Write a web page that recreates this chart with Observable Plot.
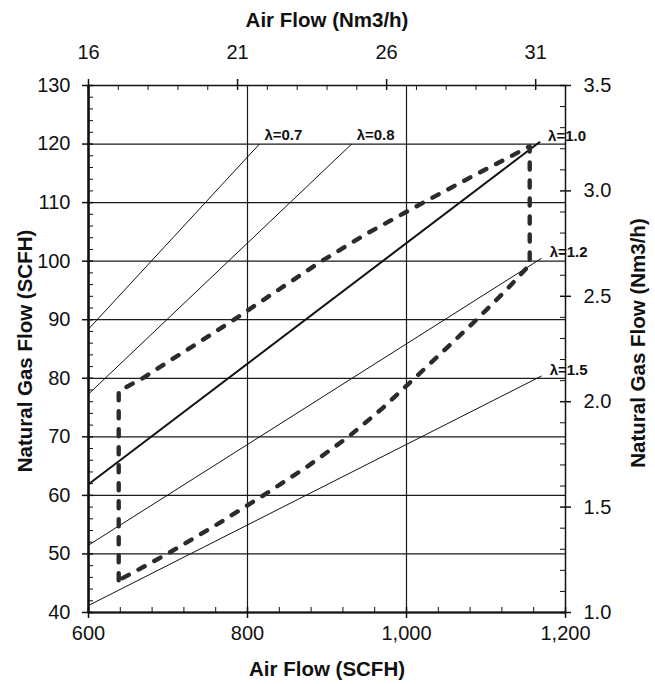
<!DOCTYPE html>
<html>
<head>
<meta charset="utf-8">
<script src="https://cdn.jsdelivr.net/npm/d3@7"></script>
<script src="https://cdn.jsdelivr.net/npm/@observablehq/plot@0.6"></script>
<style>
  html, body { margin: 0; padding: 0; background: #fff; }
  #chart svg { display: block; }
</style>
</head>
<body>
<div id="chart"></div>
<script>
// ---------- data ----------
// Bottom axis: Air Flow (SCFH)
const airTicks = [600, 800, 1000, 1200];
// Left axis: Natural Gas Flow (SCFH)
const gasTicks = [40, 50, 60, 70, 80, 90, 100, 110, 120, 130];
// Top axis: Air Flow (Nm3/h)
const airNm3Ticks = [16, 21, 26, 31];
const airNm3Minor = [17, 18, 19, 20, 22, 23, 24, 25, 27, 28, 29, 30, 32];
const scfhPerNm3Air = 37.5;            // top axis alignment (16 -> 600)
// Right axis: Natural Gas Flow (Nm3/h)
const gasNm3Ticks = [1.0, 1.5, 2.0, 2.5, 3.0, 3.5];
const gasNm3Range = [1.0, 3.5];        // aligned with gas SCFH 40 .. 130
const gasScfhRange = [40, 130];

// Air/fuel ratio lines (lambda)
const lambdaLabels = ["λ=0.7", "λ=0.8", "λ=1.0", "λ=1.2", "λ=1.5"];
const lambdaStartAir = [600, 600, 600, 600, 600];
const lambdaStartGas = [88.4, 77.3, 61.9, 51.5, 41.2];
const lambdaEndAir   = [815, 931, 1168, 1170, 1170];
const lambdaEndGas   = [120, 120, 120.4, 100.5, 80.4];
const lambdaWidth    = [1, 1, 2, 1, 1];

// Operating envelope (dashed outline)
const upperAir = [638, 668, 700, 750, 785, 840, 893, 950, 1021, 1090, 1155];
const upperGas = [77.8, 80.0, 82.8, 87.1, 90.2, 95.2, 100.0, 104.7, 110.0, 115.0, 119.6];
const lowerAir = [638, 699, 760, 820, 875, 927, 970, 1010, 1050, 1088, 1125, 1155];
const lowerGas = [45.5, 50.0, 54.9, 60.0, 64.9, 70.0, 74.9, 80.0, 85.1, 90.0, 95.0, 99.4];

// ---------- build tables ----------
const lambdaLines = lambdaLabels.map((label, i) => ({
  label, x1: lambdaStartAir[i], y1: lambdaStartGas[i],
  x2: lambdaEndAir[i], y2: lambdaEndGas[i], w: lambdaWidth[i]
}));
const upper = upperAir.map((a, i) => ({air: a, gas: upperGas[i]}));
const lower = lowerAir.map((a, i) => ({air: a, gas: lowerGas[i]}));
const outline = [lower[0], ...upper, ...lower.slice().reverse()];

const nm3ToGas = d3.scaleLinear().domain(gasNm3Range).range(gasScfhRange);
const airMinor = d3.range(600, 1201, 40).filter(v => !airTicks.includes(v));
const gasMinor = d3.range(40, 131, 2).filter(v => !gasTicks.includes(v));
const gasNm3Minor = d3.range(10, 36, 1).map(v => v / 10).filter(v => !gasNm3Ticks.some(t => Math.abs(t - v) < 1e-9));

const W = 655, H = 684, mt = 85, mb = 72, ml = 88, mr = 90;
const pw = W - ml - mr, ph = H - mt - mb;
const ink = "#111";
const txt = {fill: ink, lineAnchor: "middle"};

const chart = Plot.plot({
  width: W, height: H,
  marginTop: mt, marginBottom: mb, marginLeft: ml, marginRight: mr,
  x: {domain: [600, 1200], axis: null},
  y: {domain: [40, 130], axis: null},
  style: {fontFamily: "'Liberation Sans', Arial, sans-serif", fontSize: "20px", background: "#fff", color: ink},
  marks: [
    // grid
    Plot.ruleY(gasTicks.filter(v => v > 40 && v < 130), {y: d => d, stroke: "#1a1a1a", strokeWidth: 1.2}),
    Plot.ruleX([800, 1000], {x: d => d, stroke: "#1a1a1a", strokeWidth: 1.2}),
    // lambda lines
    Plot.link(lambdaLines, {x1: "x1", y1: "y1", x2: "x2", y2: "y2", stroke: ink, strokeWidth: "w"}),
    // envelope
    Plot.line(outline, {x: "air", y: "gas", stroke: "#2b2b2b", strokeWidth: 4.4,
      strokeDasharray: "7,11", strokeLinecap: "round", strokeLinejoin: "round"}),
    // frame
    Plot.frame({stroke: ink, strokeWidth: 1.5}),
    Plot.ruleX([600], {x: d => d, stroke: ink, strokeWidth: 2.5}),
    Plot.ruleY([40], {y: d => d, stroke: ink, strokeWidth: 2}),
    // bottom ticks
    Plot.tickX(airMinor, {x: d => d, stroke: ink, insetTop: ph - 5}),
    Plot.tickX(airTicks, {x: d => d, stroke: ink, strokeWidth: 1.5, insetTop: ph - 5, insetBottom: -6}),
    // top ticks
    Plot.tickX(airNm3Minor, {x: d => d * scfhPerNm3Air, stroke: ink, insetBottom: ph - 5}),
    Plot.tickX(airNm3Ticks, {x: d => d * scfhPerNm3Air, stroke: ink, strokeWidth: 1.5, insetBottom: ph - 5, insetTop: -6}),
    // left ticks
    Plot.tickY(gasMinor, {y: d => d, stroke: ink, insetRight: pw - 5}),
    Plot.tickY(gasTicks, {y: d => d, stroke: ink, strokeWidth: 1.5, insetRight: pw - 5, insetLeft: -6}),
    // right ticks
    Plot.tickY(gasNm3Minor, {y: d => nm3ToGas(d), stroke: ink, insetLeft: pw - 5}),
    Plot.tickY(gasNm3Ticks, {y: d => nm3ToGas(d), stroke: ink, strokeWidth: 1.5, insetLeft: pw - 5, insetRight: -6}),
    // tick labels
    Plot.text(airTicks, {...txt, x: d => d, frameAnchor: "bottom", dy: 21, textAnchor: "middle", text: d => d3.format(",")(d)}),
    Plot.text(gasTicks, {...txt, y: d => d, frameAnchor: "left", dx: -18, textAnchor: "end", text: d => String(d)}),
    Plot.text(airNm3Ticks, {...txt, x: d => d * scfhPerNm3Air, frameAnchor: "top", dy: -33, textAnchor: "middle", text: d => String(d)}),
    Plot.text(gasNm3Ticks, {...txt, y: d => nm3ToGas(d), frameAnchor: "right", dx: 18, textAnchor: "start", text: d => d.toFixed(1)}),
    // lambda labels
    Plot.text(lambdaLines.slice(0, 2), {x: "x2", y: "y2", text: "label", textAnchor: "start", dx: 5, dy: -9,
      fontSize: 15, fontWeight: "bold", fill: ink}),
    Plot.text(lambdaLines.slice(2), {x: "x2", y: "y2", text: "label", textAnchor: "start", dx: 8, dy: -6,
      fontSize: 15, fontWeight: "bold", fill: ink}),
    // axis titles
    Plot.text(["Air Flow (SCFH)"], {...txt, frameAnchor: "bottom", dy: 57, textAnchor: "middle", fontWeight: "bold", fontSize: 20.5}),
    Plot.text(["Air Flow (Nm3/h)"], {...txt, frameAnchor: "top", dy: -65, textAnchor: "middle", fontWeight: "bold", fontSize: 20.5}),
    Plot.text(["Natural Gas Flow (SCFH)"], {...txt, frameAnchor: "left", dx: -63, dy: 2, rotate: -90, textAnchor: "middle", fontWeight: "bold", fontSize: 20.5}),
    Plot.text(["Natural Gas Flow (Nm3/h)"], {...txt, frameAnchor: "right", dx: 73, dy: -6, rotate: -90, textAnchor: "middle", fontWeight: "bold", fontSize: 20.5})
  ]
});
document.getElementById("chart").append(chart);
</script>
</body>
</html>
